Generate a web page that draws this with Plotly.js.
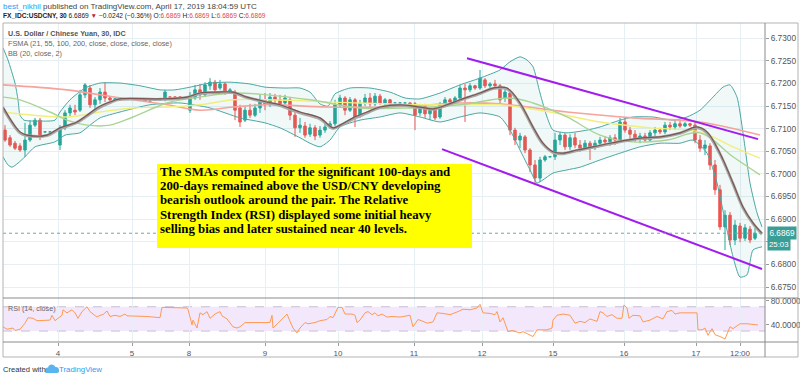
<!DOCTYPE html>
<html>
<head>
<meta charset="utf-8">
<script src="https://cdn.plot.ly/plotly-3.0.1.min.js"></script>
<style>
  html, body { margin: 0; padding: 0; background: #ffffff; }
  #chart { width: 800px; height: 378px; }
</style>
</head>
<body>
<div id="chart"></div>
<script>
// ---------------- DATA ----------------
// 30-minute USD/CNY candles, one entry per bar (bar index on the x axis)
const barOpen = [
6.7097,6.7080,6.7068,6.7062,6.7053,6.7075,6.7108,6.7119,6.7093,6.7093,
6.7095,6.7064,6.7102,6.7135,6.7141,6.7141,6.7175,6.7190,6.7153,6.7164,
6.7181,6.7168,6.7164,6.7164,6.7166,6.7166,6.7166,6.7164,6.7166,6.7161,
6.7164,6.7164,6.7164,6.7170,6.7170,6.7170,6.7168,6.7141,6.7168,6.7186,
6.7175,6.7195,6.7203,6.7190,6.7199,6.7181,6.7181,6.7146,6.7119,6.7141,
6.7130,6.7146,6.7164,6.7153,6.7170,6.7164,6.7157,6.7164,6.7130,6.7102,
6.7106,6.7088,6.7102,6.7086,6.7097,6.7104,6.7111,6.7153,6.7168,6.7141,
6.7164,6.7128,6.7157,6.7168,6.7155,6.7172,6.7157,6.7164,6.7157,6.7157,
6.7157,6.7157,6.7155,6.7135,6.7150,6.7133,6.7141,6.7126,6.7153,6.7164,
6.7159,6.7168,6.7190,6.7186,6.7195,6.7190,6.7208,6.7195,6.7199,6.7195,
6.7168,6.7179,6.7097,6.7075,6.7082,6.7053,6.7020,6.6991,6.7031,6.7038,
6.7038,6.7075,6.7086,6.7060,6.7080,6.7064,6.7057,6.7068,6.7060,6.7068,
6.7075,6.7071,6.7080,6.7075,6.7115,6.7097,6.7088,6.7080,6.7084,6.7075,
6.7091,6.7097,6.7093,6.7108,6.7104,6.7111,6.7106,6.7111,6.7108,6.7075,
6.7057,6.7062,6.7020,6.6965,6.6883,6.6909,6.6854,6.6885,6.6858,6.6878,
6.6858];
const barHigh = [
6.7108,6.7086,6.7073,6.7068,6.7113,6.7119,6.7124,6.7124,6.7093,6.7093,
6.7095,6.7108,6.7141,6.7153,6.7153,6.7186,6.7201,6.7197,6.7170,6.7190,
6.7203,6.7172,6.7168,6.7164,6.7166,6.7166,6.7166,6.7164,6.7166,6.7161,
6.7164,6.7164,6.7186,6.7170,6.7170,6.7170,6.7168,6.7181,6.7197,6.7199,
6.7203,6.7212,6.7208,6.7208,6.7203,6.7190,6.7186,6.7153,6.7150,6.7155,
6.7155,6.7175,6.7179,6.7179,6.7177,6.7175,6.7175,6.7170,6.7137,6.7124,
6.7115,6.7111,6.7108,6.7106,6.7113,6.7117,6.7164,6.7175,6.7172,6.7170,
6.7168,6.7164,6.7177,6.7179,6.7179,6.7177,6.7168,6.7166,6.7157,6.7157,
6.7157,6.7159,6.7159,6.7155,6.7155,6.7146,6.7150,6.7159,6.7170,6.7168,
6.7172,6.7197,6.7199,6.7201,6.7197,6.7230,6.7212,6.7203,6.7208,6.7199,
6.7190,6.7186,6.7102,6.7091,6.7086,6.7057,6.7031,6.7038,6.7042,6.7038,
6.7091,6.7093,6.7091,6.7088,6.7091,6.7075,6.7075,6.7073,6.7075,6.7082,
6.7084,6.7086,6.7088,6.7124,6.7124,6.7104,6.7097,6.7091,6.7091,6.7097,
6.7104,6.7102,6.7115,6.7115,6.7119,6.7117,6.7115,6.7113,6.7115,6.7086,
6.7075,6.7068,6.7031,6.6976,6.6920,6.6916,6.6898,6.6892,6.6889,6.6885,
6.6881];
const barLow = [
6.7071,6.7060,6.7053,6.7049,6.7038,6.7071,6.7104,6.7075,6.7093,6.7093,
6.7095,6.7053,6.7097,6.7128,6.7130,6.7137,6.7168,6.7146,6.7141,6.7155,
6.7159,6.7155,6.7161,6.7164,6.7166,6.7166,6.7166,6.7164,6.7159,6.7161,
6.7164,6.7164,6.7161,6.7170,6.7170,6.7170,6.7168,6.7135,6.7164,6.7164,
6.7170,6.7186,6.7181,6.7186,6.7175,6.7179,6.7119,6.7104,6.7115,6.7124,
6.7126,6.7135,6.7141,6.7148,6.7157,6.7148,6.7153,6.7119,6.7082,6.7091,
6.7080,6.7082,6.7075,6.7080,6.7091,6.7100,6.7106,6.7146,6.7130,6.7137,
6.7104,6.7124,6.7150,6.7148,6.7150,6.7153,6.7153,6.7150,6.7157,6.7157,
6.7157,6.7153,6.7097,6.7128,6.7124,6.7119,6.7119,6.7122,6.7148,6.7155,
6.7155,6.7164,6.7115,6.7181,6.7186,6.7186,6.7190,6.7190,6.7190,6.7153,
6.7159,6.7086,6.7064,6.7057,6.7046,6.7004,6.6980,6.6982,6.7027,6.7038,
6.7031,6.7064,6.7053,6.7053,6.7057,6.7049,6.7053,6.7031,6.7053,6.7062,
6.7064,6.7062,6.7064,6.7071,6.7091,6.7075,6.7071,6.7068,6.7071,6.7071,
6.7084,6.7088,6.7088,6.7097,6.7097,6.7102,6.7104,6.7104,6.7068,6.7049,
6.7042,6.7009,6.6954,6.6876,6.6832,6.6843,6.6843,6.6849,6.6852,6.6847,
6.6854];
const barClose = [
6.7075,6.7064,6.7057,6.7053,6.7075,6.7108,6.7119,6.7082,6.7093,6.7093,
6.7095,6.7102,6.7135,6.7146,6.7137,6.7175,6.7197,6.7153,6.7164,6.7181,
6.7168,6.7164,6.7166,6.7164,6.7166,6.7166,6.7166,6.7164,6.7161,6.7161,
6.7164,6.7164,6.7181,6.7170,6.7170,6.7170,6.7168,6.7168,6.7186,6.7175,
6.7197,6.7203,6.7186,6.7199,6.7181,6.7186,6.7141,6.7115,6.7141,6.7130,
6.7146,6.7164,6.7153,6.7170,6.7164,6.7155,6.7168,6.7130,6.7102,6.7108,
6.7086,6.7102,6.7084,6.7097,6.7104,6.7111,6.7153,6.7168,6.7141,6.7164,
6.7124,6.7157,6.7168,6.7155,6.7172,6.7157,6.7164,6.7155,6.7157,6.7157,
6.7157,6.7155,6.7130,6.7150,6.7133,6.7141,6.7124,6.7153,6.7164,6.7159,
6.7168,6.7190,6.7186,6.7195,6.7190,6.7212,6.7195,6.7199,6.7195,6.7164,
6.7181,6.7097,6.7075,6.7084,6.7053,6.7020,6.6991,6.7031,6.7038,6.7038,
6.7075,6.7086,6.7060,6.7080,6.7064,6.7057,6.7068,6.7060,6.7068,6.7075,
6.7071,6.7080,6.7075,6.7115,6.7097,6.7088,6.7080,6.7084,6.7075,6.7091,
6.7097,6.7093,6.7108,6.7104,6.7111,6.7106,6.7111,6.7108,6.7075,6.7057,
6.7064,6.7020,6.6965,6.6883,6.6909,6.6854,6.6887,6.6858,6.6881,6.6854,
6.6869];

// Bollinger Bands (20, close, 2) – readings along the bar index
const bbUpperX = [-0.4,0.6,2,2.6,3,3.8,7,10,11,13,16,19,23,27,31,34,37,41,45,49,52,56,59,61,63,64.6,66,69,73,77,80,83,87,91,95,99,101,103,104.4,105.6,107,108.4,109.6,112.4,116.4,119,123,125.6,129.6,133.6,136.4,139,141.6,143.6,145,146.4,147.6,149,150.4,151.4];
const bbUpperY = [6.7279,6.7252,6.7201,6.7164,6.7130,6.7119,6.7117,6.7119,6.7137,6.7164,6.7190,6.7201,6.7201,6.7195,6.7186,6.7186,6.7192,6.7201,6.7203,6.7199,6.7192,6.7190,6.7190,6.7181,6.7155,6.7150,6.7177,6.7190,6.7190,6.7181,6.7168,6.7166,6.7179,6.7197,6.7212,6.7230,6.7248,6.7259,6.7252,6.7237,6.7179,6.7126,6.7097,6.7091,6.7097,6.7104,6.7119,6.7126,6.7126,6.7119,6.7126,6.7141,6.7170,6.7192,6.7197,6.7170,6.7091,6.6980,6.6914,6.6883];
const bbLowerX = [-0.4,0.6,1.4,2.6,4,6,10,12,15,17,19,23,29,35,41,47,52,55,59,61,63,65,67,71,75,79,83,87,91,95,99,101,103,105,106.4,107.6,109.6,112.4,115,119,123,127,131,135,137.6,140.4,142.4,144.4,145.6,147,148.4,149.6,151.4];
const bbLowerY = [6.7038,6.7020,6.7015,6.7024,6.7038,6.7060,6.7071,6.7086,6.7091,6.7108,6.7124,6.7137,6.7153,6.7157,6.7146,6.7124,6.7113,6.7102,6.7080,6.7068,6.7060,6.7075,6.7104,6.7119,6.7126,6.7135,6.7126,6.7115,6.7126,6.7135,6.7126,6.7097,6.7053,6.7009,6.6980,6.6987,6.7002,6.7009,6.7015,6.7031,6.7046,6.7060,6.7068,6.7068,6.7075,6.7046,6.6980,6.6876,6.6817,6.6772,6.6777,6.6832,6.6839];

// FSMA 21 (dark brown) and the BB basis (grey) that runs underneath it
const sma21X = [-0.4,3,4.4,8.4,11,14.4,16.4,18.4,21,23,31,36.4,39,42.4,45.6,48.4,52.4,55,59,63,65.6,67,69.6,72.4,75,79,83,85.6,88.4,91,95,97.6,100.4,103,105.6,107.6,109.6,111.6,114.4,117.6,121,124.4,127.6,131,135,138.4,140.4,143,145.6,147.6,149.6,151.4];
const sma21Y = [6.7148,6.7093,6.7086,6.7086,6.7102,6.7115,6.7130,6.7146,6.7159,6.7166,6.7166,6.7170,6.7179,6.7181,6.7181,6.7170,6.7159,6.7153,6.7137,6.7124,6.7102,6.7108,6.7124,6.7137,6.7148,6.7153,6.7148,6.7144,6.7153,6.7164,6.7179,6.7190,6.7190,6.7157,6.7104,6.7068,6.7049,6.7046,6.7053,6.7060,6.7068,6.7075,6.7080,6.7082,6.7091,6.7104,6.7093,6.7046,6.6980,6.6927,6.6892,6.6869];
const bbBasisY = [6.7146,6.7091,6.7085,6.7085,6.7100,6.7114,6.7128,6.7144,6.7158,6.7165,6.7165,6.7169,6.7178,6.7180,6.7180,6.7169,6.7158,6.7151,6.7135,6.7122,6.7101,6.7107,6.7122,6.7135,6.7147,6.7152,6.7147,6.7143,6.7152,6.7163,6.7178,6.7189,6.7188,6.7155,6.7102,6.7066,6.7048,6.7045,6.7052,6.7059,6.7067,6.7074,6.7079,6.7081,6.7090,6.7102,6.7091,6.7044,6.6978,6.6925,6.6890,6.6867];

// FSMA 55 (green), 100 (yellow), 200 (salmon)
const sma55X = [-0.4,3,9,12.4,16.4,21,25.6,32.4,39,45.6,52.4,61,71,81,91,101,105.6,112.4,119,125.6,132.4,139,145.6,151];
const sma55Y = [6.7170,6.7164,6.7137,6.7119,6.7108,6.7108,6.7126,6.7157,6.7170,6.7179,6.7175,6.7164,6.7146,6.7146,6.7153,6.7168,6.7157,6.7126,6.7086,6.7071,6.7075,6.7091,6.7038,6.6998];
const sma100X = [-0.4,12.4,19,25.6,32.4,39,45.6,52.4,71,84.4,94.4,99,109,119,129,139,145.6,151];
const sma100Y = [6.7137,6.7126,6.7137,6.7146,6.7148,6.7153,6.7164,6.7164,6.7157,6.7153,6.7153,6.7153,6.7137,6.7115,6.7102,6.7093,6.7060,6.7035];
const sma200X = [-0.4,12.4,19,25.6,32.4,39,45.6,52.4,64.4,77.6,91,99,112.4,125.6,139,151];
const sma200Y = [6.7197,6.7186,6.7175,6.7164,6.7153,6.7141,6.7148,6.7153,6.7148,6.7148,6.7157,6.7155,6.7137,6.7124,6.7115,6.7086];

// Hand-drawn descending channel (purple trend lines)
const channelUpperX = [92.4, 150.6];
const channelUpperY = [6.7256, 6.7077];
const channelLowerX = [87.4, 151.4];
const channelLowerY = [6.7055, 6.6790];

// RSI (14, close)
const rsiX = [-0.4,0.4,1.6,2,3,4,4.6,5.6,6.4,8.4,9,9.4,10,10.6,11.4,11.6,12.4,13.4,14,14.6,15.4,16.4,17,18.4,19,19.6,20.4,21,22,23,24,24.4,27.6,28.4,31,31.4,36.4,36.6,37.4,37.6,38.4,39,39.6,40.4,41,42,43,43.4,44.4,45.6,46.4,47,48,49.6,50.6,52.4,53,53.4,53.6,54.6,55.6,56.4,57,57.6,58.4,59,60,60.6,62,63,64.4,65,65.6,66.6,67.4,68,69.4,70,70.4,71,72,72.6,73.4,74,74.6,75.4,76.4,77.4,79,81,81.6,82.6,83.6,84.4,85.6,86.4,87.6,89,90.6,91.6,93,94.4,95,95.6,97,98,98.4,99,99.6,100.6,101.4,103,103.6,104.4,105.6,106.4,108.4,109.4,109.6,110.4,111.6,113,114,115,116,117,118.4,119,119.6,120.4,121.4,122.4,123.4,123.8,124.4,124.8,125.6,127,127.6,129,130.4,131.6,132.4,133.4,134,135,138.4,138.6,139.4,140,140.6,141.4,142,143,144,145,145.6,147,148.4,150.6];
const rsiY = [37,33,35,31,33,43,52,51,47,47,48,56,47,51,56,65,60,65,60,51,62,70,62,53,56,57,63,54,56,54,58,55,55,54,52,69,68,66,40,48,35,60,57,62,51,58,62,55,50,37,35,37,44,44,45,44,44,56,35,43,51,58,46,35,27,35,44,42,44,47,49,54,52,69,69,58,58,56,44,48,60,62,57,60,55,58,53,54,53,56,37,49,46,43,45,60,59,57,62,66,65,68,74,60,59,57,62,45,52,29,31,27,29,26,21,32,32,35,48,56,58,56,43,46,44,50,46,62,60,54,57,51,51,73,68,51,56,55,45,48,54,50,62,64,58,60,60,32,32,35,23,34,24,21,17,37,34,42,42,40];
const rsiBandLow = 30, rsiBandHigh = 70;

// Axis ticks / labels (6.6850 is covered by the live price tag in the picture)
const dayTickIdx = [10.6, 25.4, 36.8, 52, 66.6, 81.8, 95.4, 109.6, 123.8, 138.2, 147];
const dayTickLabels = ['4', '5', '8', '9', '10', '11', '12', '15', '16', '17', '12:00'];
const priceTicks = [6.675, 6.680, 6.685, 6.690, 6.695, 6.700, 6.705, 6.710, 6.715, 6.720, 6.725, 6.730];
const priceTickLabels = ['6.6750', '6.6800', '', '6.6900', '6.6950', '6.7000', '6.7050', '6.7100', '6.7150', '6.7200', '6.7250', '6.7300'];
const rsiTicks = [40, 80];
const rsiTickLabels = ['40.0000', '80.0000'];

const noteLines = [
  'The SMAs computed for the significant 100-days and',
  '200-days remained above the USD/CNY developing',
  'bearish outlook around the pair. The Relative',
  'Strength Index (RSI) displayed some initial heavy',
  'selling bias and later sustained near 40 levels.'
];

// ---------------- DRAWING ----------------
const barX = barClose.map((_, i) => i);
const lastClose = barClose[barClose.length - 1];

// layout helpers: pixel -> paper (plot area x 3..765, y 23..342)
const PX0 = 3, PW = 762, PY1 = 342, PH = 319;
const px = v => (v - PX0) / PW;
const py = v => (PY1 - v) / PH;

const GREEN = '#26a69a', RED = '#ef5350';
const BB = '#4aa7a3';

const traces = [
  { x: bbLowerX, y: bbLowerY, type: 'scatter', mode: 'lines', line: { color: BB, width: 1, shape: 'spline', smoothing: 0.6 }, hoverinfo: 'skip' },
  { x: bbUpperX, y: bbUpperY, type: 'scatter', mode: 'lines', fill: 'tonexty', fillcolor: 'rgba(38,166,154,0.07)', line: { color: BB, width: 1, shape: 'spline', smoothing: 0.6 }, hoverinfo: 'skip' },
  { x: sma200X, y: sma200Y, type: 'scatter', mode: 'lines', line: { color: '#f7a39d', width: 1.6, shape: 'spline' }, hoverinfo: 'skip' },
  { x: sma100X, y: sma100Y, type: 'scatter', mode: 'lines', line: { color: '#f2ee7c', width: 1.4, shape: 'spline' }, hoverinfo: 'skip' },
  { x: sma55X, y: sma55Y, type: 'scatter', mode: 'lines', line: { color: '#aad494', width: 1.4, shape: 'spline' }, hoverinfo: 'skip' },
  { x: sma21X, y: bbBasisY, type: 'scatter', mode: 'lines', line: { color: '#a9a9a9', width: 3, shape: 'spline' }, hoverinfo: 'skip' },
  { x: sma21X, y: sma21Y, type: 'scatter', mode: 'lines', line: { color: '#7a5650', width: 1.2, shape: 'spline' }, hoverinfo: 'skip' },
  {
    type: 'candlestick', x: barX, open: barOpen, high: barHigh, low: barLow, close: barClose,
    increasing: { line: { color: GREEN, width: 1 }, fillcolor: GREEN },
    decreasing: { line: { color: RED, width: 1 }, fillcolor: RED },
    whiskerwidth: 0, hoverinfo: 'skip'
  },
  { x: channelUpperX, y: channelUpperY, type: 'scatter', mode: 'lines', line: { color: '#a21cf0', width: 2 }, hoverinfo: 'skip' },
  { x: channelLowerX, y: channelLowerY, type: 'scatter', mode: 'lines', line: { color: '#a21cf0', width: 2 }, hoverinfo: 'skip' },
  { x: rsiX, y: rsiY, xaxis: 'x', yaxis: 'y2', type: 'scatter', mode: 'lines', line: { color: '#ff9a52', width: 1 }, hoverinfo: 'skip' }
];

const FONT = 'Liberation Sans, Arial, sans-serif';
const annotations = [];
function label(text, xPx, yPx, size, color, extra) {
  annotations.push(Object.assign({
    text, x: px(xPx), y: py(yPx), xref: 'paper', yref: 'paper',
    xanchor: 'left', yanchor: 'middle', showarrow: false, borderpad: 0,
    font: { family: FONT, size, color }
  }, extra || {}));
}
const R = '#e0474c';
label('<span style="color:#2a9df4">best_nikhil</span> published on TradingView.com, April 17, 2019 18:04:59 UTC', 2, 6, 8.0, '#444');
label('<b>FX_IDC:USDCNY, 30</b> 6.6869 <span style="color:#c62828">▼</span> −0.0242 (−0.36%) O:<span style="color:' + R + '">6.6869</span> H:<span style="color:' + R + '">6.6869</span> L:<span style="color:' + R + '">6.6869</span> C:<span style="color:' + R + '">6.6869</span>', 2, 16, 6.6, '#222');
label('<b>U.S. Dollar / Chinese Yuan, 30, IDC</b>', 7, 33, 7.2, '#555');
label('FSMA (21, 55, 100, 200, close, close, close, close)', 7, 43, 7.3, '#666');
label('BB (20, close, 2)', 7, 53, 7.3, '#666');
label('RSI (14, close)', 7, 308, 7.2, '#666');
label('Created with', 2, 369, 7.6, '#333');
label('TradingView', 58, 369, 7.8, '#2a9df4');
noteLines.forEach((t, k) => {
  label('<b>' + t + '</b>', 159, 172 + 14.2 * k, 12.8, '#000', { font: { family: 'Liberation Serif, Times New Roman, serif', size: 12.8, color: '#000' } });
});
// current price tags on the price scale
annotations.push({ text: lastClose.toFixed(4), x: 1.002, y: lastClose, xref: 'paper', yref: 'y', xanchor: 'left', yanchor: 'middle', showarrow: false, bgcolor: '#3a9e97', borderpad: 1.5, font: { family: FONT, size: 8.2, color: '#fff' } });
annotations.push({ text: '25:03', x: 1.002, y: lastClose, yshift: -11, xref: 'paper', yref: 'y', xanchor: 'left', yanchor: 'middle', showarrow: false, bgcolor: '#3a9e97', borderpad: 1, font: { family: FONT, size: 7.8, color: '#fff' } });

const FRAME = '#b3b3b3';
const shapes = [
  // RSI 30-70 band
  { type: 'rect', xref: 'paper', yref: 'y2', x0: 0, x1: 1, y0: rsiBandLow, y1: rsiBandHigh, fillcolor: '#f3e7fc', line: { width: 0 }, layer: 'below' },
  { type: 'line', xref: 'paper', yref: 'y2', x0: 0, x1: 1, y0: rsiBandHigh, y1: rsiBandHigh, line: { color: '#c9bcd3', width: 1, dash: 'dash' }, layer: 'below' },
  { type: 'line', xref: 'paper', yref: 'y2', x0: 0, x1: 1, y0: rsiBandLow, y1: rsiBandLow, line: { color: '#c9bcd3', width: 1, dash: 'dash' }, layer: 'below' },
  // last price line
  { type: 'line', xref: 'paper', yref: 'y', x0: 0, x1: 1, y0: lastClose, y1: lastClose, line: { color: '#5bb3ad', width: 1, dash: 'dot' }, layer: 'above' },
  // note box
  { type: 'rect', xref: 'paper', yref: 'paper', x0: px(157), x1: px(472), y0: py(248), y1: py(164), fillcolor: '#ffff00', line: { width: 0 }, layer: 'above' },
  // frames
  { type: 'rect', xref: 'paper', yref: 'paper', x0: px(3), x1: px(798), y0: py(357), y1: py(23), line: { color: FRAME, width: 1 }, fillcolor: 'rgba(0,0,0,0)', layer: 'above' },
  { type: 'line', xref: 'paper', yref: 'paper', x0: px(765), x1: px(765), y0: py(357), y1: py(23), line: { color: '#8a8a8a', width: 1 }, layer: 'above' },
  { type: 'line', xref: 'paper', yref: 'paper', x0: px(3), x1: px(798), y0: py(298), y1: py(298), line: { color: '#8a8a8a', width: 1 }, layer: 'above' },
  { type: 'line', xref: 'paper', yref: 'paper', x0: px(3), x1: px(798), y0: py(342), y1: py(342), line: { color: '#8a8a8a', width: 1 }, layer: 'above' },
  // TradingView cloud logo
  { type: 'path', xref: 'paper', yref: 'paper', layer: 'above', fillcolor: '#5ab4ee', line: { width: 0 },
    path: 'M ' + px(46) + ' ' + py(373) + ' L ' + px(57) + ' ' + py(373) + ' Q ' + px(59.5) + ' ' + py(373) + ' ' + px(59) + ' ' + py(369.5) +
          ' Q ' + px(58.5) + ' ' + py(366.5) + ' ' + px(55.5) + ' ' + py(367) + ' Q ' + px(54) + ' ' + py(364) + ' ' + px(51) + ' ' + py(364.5) +
          ' Q ' + px(48.5) + ' ' + py(365) + ' ' + px(48) + ' ' + py(367.5) + ' Q ' + px(45) + ' ' + py(367.5) + ' ' + px(45) + ' ' + py(370.5) +
          ' Q ' + px(45) + ' ' + py(373) + ' ' + px(46) + ' ' + py(373) + ' Z' }
];

const GRID = '#e6eff4';
const layout = {
  width: 800, height: 378,
  margin: { l: 3, r: 35, t: 23, b: 36, pad: 0 },
  paper_bgcolor: '#ffffff', plot_bgcolor: '#ffffff',
  showlegend: false,
  font: { family: FONT, size: 8, color: '#555' },
  xaxis: {
    range: [-0.4, 152], anchor: 'y2', tickmode: 'array', tickvals: dayTickIdx, ticktext: dayTickLabels,
    showgrid: true, gridcolor: GRID, gridwidth: 1, zeroline: false, showline: false,
    ticks: 'outside', ticklen: 3, tickcolor: '#9a9a9a', tickfont: { family: FONT, size: 8, color: '#555' },
    rangeslider: { visible: false }, fixedrange: true
  },
  yaxis: {
    domain: [(342 - 298) / 319, 1], range: [6.67258, 6.73338], side: 'right',
    tickmode: 'array', tickvals: priceTicks, ticktext: priceTickLabels,
    showgrid: true, gridcolor: GRID, zeroline: false, showline: false,
    ticks: 'outside', ticklen: 3, tickcolor: '#9a9a9a', tickfont: { family: FONT, size: 8.3, color: '#555' }, fixedrange: true
  },
  yaxis2: {
    domain: [0, (342 - 298) / 319], range: [12, 84.4], side: 'right',
    tickmode: 'array', tickvals: rsiTicks, ticktext: rsiTickLabels,
    showgrid: false, zeroline: false, showline: false,
    ticks: 'outside', ticklen: 3, tickcolor: '#9a9a9a', tickfont: { family: FONT, size: 8.3, color: '#555' }, fixedrange: true
  },
  shapes, annotations
};

Plotly.newPlot('chart', traces, layout, { displayModeBar: false, staticPlot: true });
</script>
</body>
</html>
